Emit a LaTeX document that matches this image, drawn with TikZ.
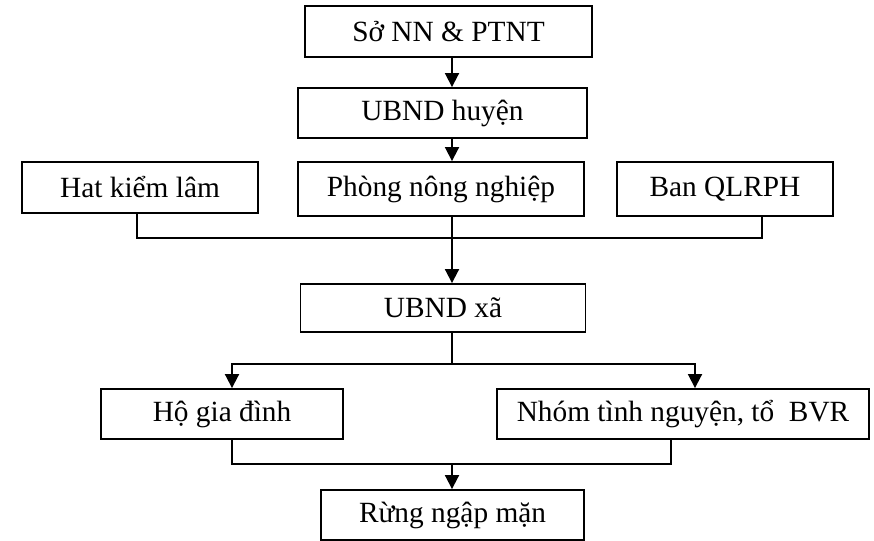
\documentclass[tikz,border=0pt]{standalone}
\usepackage{fontspec}
\setmainfont{Liberation Serif}
\usetikzlibrary{arrows.meta}
\tikzset{
  box/.style={draw, line width=1.4pt, inner sep=0pt, font=\fontsize{22}{26}\selectfont},
  link/.style={line width=1.4pt},
  arrowlink/.style={line width=1.4pt, -{Triangle[length=10.5pt,width=10.5pt]}}
}
\begin{document}
\begin{tikzpicture}[x=0.75pt, y=-0.75pt]
\useasboundingbox (0,0) rectangle (874,541);
\node[box, minimum width=287*0.75pt, minimum height=51*0.75pt] (so) at (448.5,31.5) {Sở NN \& PTNT};
\node[box, minimum width=289*0.75pt, minimum height=50*0.75pt] (huyen) at (442.5,113) {UBND huyện};
\node[box, minimum width=236*0.75pt, minimum height=51*0.75pt] (hat) at (140,187.5) {Hat kiểm lâm};
\node[box, minimum width=286*0.75pt, minimum height=54*0.75pt] (phong) at (441,189) {Phòng nông nghiệp};
\node[box, minimum width=216*0.75pt, minimum height=54*0.75pt] (ban) at (725,189) {Ban QLRPH};
\node[box, minimum width=285*0.75pt, minimum height=48*0.75pt] (xa) at (443,308) {UBND xã};
\node[box, minimum width=242*0.75pt, minimum height=50*0.75pt] (ho) at (222,414) {Hộ gia đình};
\node[box, minimum width=372*0.75pt, minimum height=50*0.75pt] (nhom) at (683,414) {Nhóm tình nguyện, tổ\ \ BVR};
\node[box, minimum width=263*0.75pt, minimum height=50*0.75pt] (rung) at (452.5,515) {Rừng ngập mặn};

% line positions
\coordinate (trunk) at (452,0);
\coordinate (hatx) at (137,0);
\coordinate (banx) at (762,0);
\coordinate (join1) at (452,238);
\coordinate (split) at (452,364);
\coordinate (hox) at (232,0);
\coordinate (nhomx) at (695,0);
\coordinate (nhomout) at (671,0);
\coordinate (join2) at (452,464);

\draw[arrowlink] (so.south -| trunk) -- (huyen.north -| trunk);
\draw[arrowlink] (huyen.south -| trunk) -- (phong.north -| trunk);
\draw[link] (hat.south -| hatx) |- (join1) -| (ban.south -| banx);
\draw[arrowlink] (phong.south -| trunk) -- (xa.north -| trunk);
\draw[link] (xa.south -| trunk) -- (split);
\draw[arrowlink] (split) -| (ho.north -| hox);
\draw[arrowlink] (split) -| (nhom.north -| nhomx);
\draw[link] (ho.south -| hox) |- (join2) -| (nhom.south -| nhomout);
\draw[arrowlink] (join2) -- (rung.north -| trunk);
\end{tikzpicture}
\end{document}
